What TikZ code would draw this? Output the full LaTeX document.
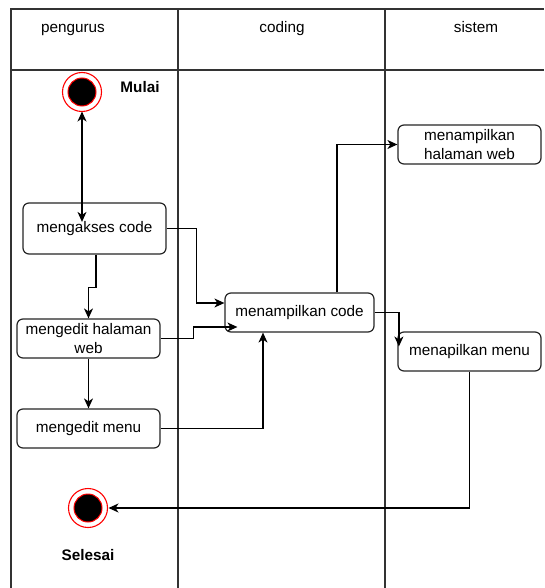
\documentclass[tikz,border=0pt]{standalone}
\usepackage{fontspec}
\setmainfont{Liberation Sans}
\usetikzlibrary{arrows.meta}
\begin{document}
\begin{tikzpicture}[x=1pt,y=-1pt,
  lane/.style={draw=black!80,line width=1.4pt},
  act/.style={draw=black!85,line width=1.2pt,rounded corners=6pt,fill=white,
    minimum width=143pt,minimum height=39pt,inner sep=0pt,align=center,
    font=\fontsize{15.3}{19}\selectfont},
  arr/.style={draw=black,line width=1.2pt,-{Stealth[length=10pt,width=9pt,inset=3pt]}},
  lbl/.style={font=\fontsize{15.3}{19}\selectfont,inner sep=0pt,anchor=base},
  bold/.style={font=\fontsize{15.3}{19}\selectfont\bfseries,inner sep=0pt,anchor=base}]
\useasboundingbox (0,0) rectangle (544,588);
\fill[white] (0,0) rectangle (544,588);

% swimlane frame
\draw[lane] (11,588) -- (11,9) -- (544,9);
\draw[lane] (11,70) -- (544,70);
\draw[lane] (178,9) -- (178,588);
\draw[lane] (385,9) -- (385,588);

\node[lbl] (h1) at (73,33) {pengurus};
\node[lbl] (h2) at (282,33) {coding};
\node[lbl] (h3) at (476,33) {sistem};

% start state
\node[circle,fill=black,draw=red,line width=1pt,minimum size=28pt,inner sep=0pt] (start) at (82,92) {};
\draw[red,line width=1.1pt] (start.center) circle (19.5pt);
\node[bold] (mulai) at (140,93) {Mulai};

% activities
\node[act,minimum height=51pt] (akses) at (94.5,228.5) {mengakses code};
\node[act] (editweb) at (88.5,338.5) {mengedit halaman\\web};
\node[act] (editmenu) at (88.5,428.5) {mengedit menu};
\node[act,minimum width=149pt] (code) at (299.5,312.5) {menampilkan code};
\node[act] (web) at (469.5,144.5) {menampilkan\\halaman web};
\node[act] (menu) at (469.5,351.5) {menapilkan menu};

% end state
\node[circle,fill=black,draw=red,line width=1pt,minimum size=28pt,inner sep=0pt] (stop) at (88,508) {};
\draw[red,line width=1.1pt] (stop.center) circle (19.5pt);
\coordinate (stopin) at (108.5,508);
\node[bold] (selesai) at (88,560) {Selesai};

% flows
\draw[arr,{Stealth[length=10pt,width=9pt,inset=3pt]}-{Stealth[length=10pt,width=9pt,inset=3pt]}]
  ([yshift=-19.5pt]start.center) -- ([yshift=-19.5pt]start.center |- akses.north);
\draw[arr] ([xshift=1.5pt]akses.south) -- ++(0,33) -| (editweb.north);
\draw[arr] (editweb.south) -- (editmenu.north);
\draw[arr] (akses.east) -- ++(30,0) |- ([yshift=9.5pt]code.west);
\draw[arr] (editweb.east) -- ++(33,0) |- ([xshift=13pt,yshift=-14.5pt]code.west);
\draw[arr] (editmenu.east) -| ([xshift=-36.5pt]code.south);
\draw[arr] ([xshift=37.5pt]code.north) |- (web.west);
\draw[arr] (code.east) -| ([xshift=1.5pt,yshift=5pt]menu.west);
\draw[arr] (menu.south) |- (stopin);
\end{tikzpicture}
\end{document}
